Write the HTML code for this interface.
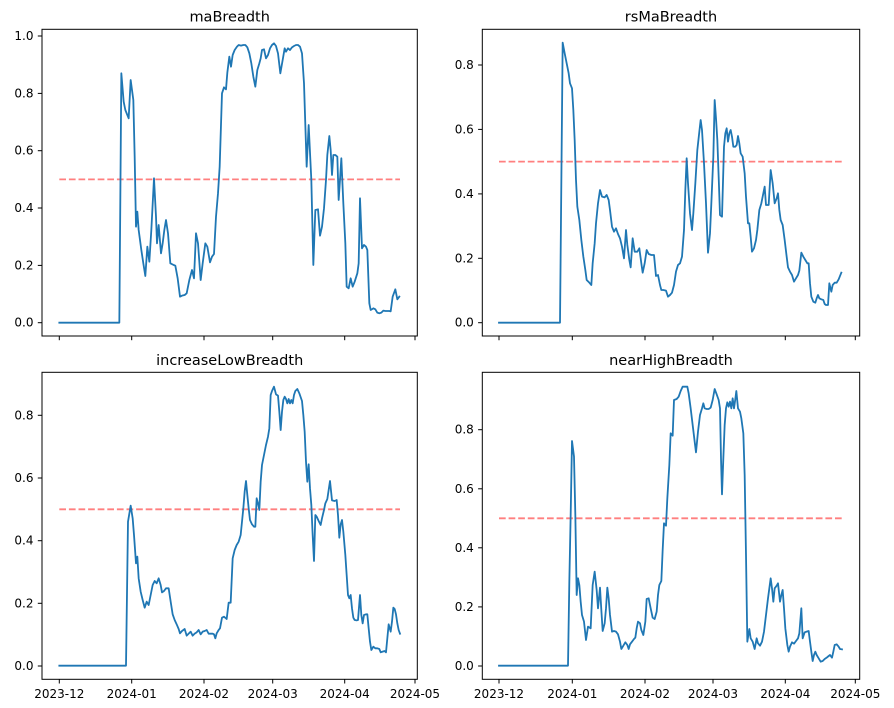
<!DOCTYPE html>
<html>
<head>
<meta charset="utf-8">
<style>
  html,body{margin:0;padding:0;background:#fff;}
  svg{display:block;}
  text{font-family:"DejaVu Sans","Liberation Sans",sans-serif;fill:#000;}
  .t{font-size:14.5px;text-anchor:middle;}
  .yl{font-size:12px;text-anchor:end;dominant-baseline:central;}
  .xl{font-size:12px;text-anchor:middle;}
  .sp{fill:none;stroke:#000;stroke-width:1;}
  .tk{stroke:#000;stroke-width:1;}
  .ref{stroke:#ff0000;stroke-opacity:0.5;stroke-width:1.8;stroke-dasharray:6.7,2.9;fill:none;}
  .ln{fill:none;stroke:#1f77b4;stroke-width:1.8;stroke-linejoin:round;stroke-linecap:square;}
</style>
</head>
<body>
<svg width="894" height="708" viewBox="0 0 894 708" xmlns="http://www.w3.org/2000/svg">
<rect width="894" height="708" fill="#fff"/>

<!-- ============ Top-left: maBreadth ============ -->
<text class="t" x="229.7" y="21.5">maBreadth</text>
<line class="ref" x1="59.3" y1="179.4" x2="400" y2="179.4"/>
<g transform="translate(112,30) scale(0.33333)">
<polyline class="ln" vector-effect="non-scaling-stroke" points="-158,878 22,878 28,130 35,215 40,240 46,255 50,265 56,150 64,210 68,380 72,590 76,545 80,600 88,660 94,700 100,738 106,650 112,695 118,600 126,445 132,560 135,640 140,585 147,670 152,640 157,600 162,570 168,610 175,700 185,705 190,707 197,745 204,800 210,797 218,795 224,790 232,750 240,720 246,745 252,610 258,640 266,750 272,700 280,640 286,650 294,697 300,680 306,672 312,560 318,490 323,410 330,190 336,172 342,178 346,128 352,80 357,110 362,75 368,60 375,50 380,45 387,47 394,45 400,45 406,52 412,70 418,100 424,140 430,170 436,120 442,100 446,85 450,60 456,58 462,85 468,75 474,55 480,45 486,40 492,48 498,70 505,130 512,90 518,55 522,65 528,55 534,60 540,52 546,48 552,45 558,45 564,50 570,70 576,160 584,410 590,285 598,450 604,705 610,540 618,538 624,617 630,590 636,535 642,450 646,375 652,318 656,360 660,435 664,375 670,375 676,380 680,510 684,450 688,385 694,520 700,640 704,770 710,775 716,745 722,770 728,755 736,730 740,700 744,505 750,655 756,645 762,650 766,660 772,820 776,840 784,835 790,838 796,848 802,850 808,848 814,842 820,843 826,843 832,843 836,844 842,800 850,778 856,808 862,800"/>
</g>
<rect class="sp" x="42" y="29.3" width="375.3" height="306.7"/>
<g class="tk">
<line x1="42" y1="322.7" x2="37.8" y2="322.7"/><line x1="42" y1="265.4" x2="37.8" y2="265.4"/><line x1="42" y1="208" x2="37.8" y2="208"/><line x1="42" y1="150.7" x2="37.8" y2="150.7"/><line x1="42" y1="93.4" x2="37.8" y2="93.4"/><line x1="42" y1="36" x2="37.8" y2="36"/>
<line x1="59.3" y1="336" x2="59.3" y2="340.2"/><line x1="131.7" y1="336" x2="131.7" y2="340.2"/><line x1="204" y1="336" x2="204" y2="340.2"/><line x1="272.7" y1="336" x2="272.7" y2="340.2"/><line x1="344.7" y1="336" x2="344.7" y2="340.2"/><line x1="415" y1="336" x2="415" y2="340.2"/>
</g>
<text class="yl" x="33.5" y="322.7">0.0</text><text class="yl" x="33.5" y="265.4">0.2</text><text class="yl" x="33.5" y="208">0.4</text><text class="yl" x="33.5" y="150.7">0.6</text><text class="yl" x="33.5" y="93.4">0.8</text><text class="yl" x="33.5" y="36">1.0</text>

<!-- ============ Top-right: rsMaBreadth ============ -->
<text class="t" x="671" y="21.5">rsMaBreadth</text>
<line class="ref" x1="499" y1="161.6" x2="842" y2="161.6"/>
<g transform="translate(556,30) scale(0.33333)">
<polyline class="ln" vector-effect="non-scaling-stroke" points="-171,878 12,878 20,38 26,70 32,100 38,130 42,160 48,175 52,240 56,330 60,450 64,530 70,570 76,630 82,680 88,720 92,750 100,758 106,765 110,700 116,640 120,580 126,520 132,480 138,500 146,502 152,495 158,510 162,540 168,590 174,605 180,595 186,612 192,625 198,650 204,685 210,600 214,645 220,690 224,712 230,625 236,665 244,665 250,655 256,700 260,728 266,700 272,660 278,672 286,675 294,675 300,738 306,735 312,765 316,780 322,780 330,782 336,800 342,795 348,788 354,765 360,725 366,705 372,700 378,680 384,600 388,480 392,385 396,460 402,550 408,600 412,550 418,460 424,360 430,305 434,270 438,300 444,400 450,520 456,668 462,610 466,520 472,380 476,210 480,265 484,330 488,440 492,555 498,560 504,350 508,310 512,295 516,335 520,310 524,300 528,320 532,350 538,350 542,345 546,318 550,340 554,370 560,380 566,430 570,500 576,580 580,580 584,620 588,665 594,655 600,630 604,600 610,540 616,520 622,490 626,470 630,525 638,525 644,420 650,460 656,520 662,505 666,490 670,540 674,570 680,585 686,630 692,680 696,712 702,725 708,735 714,755 720,745 726,735 730,722 736,668 742,680 748,690 754,700 758,700 762,760 766,800 772,815 778,818 782,805 786,795 790,805 796,808 802,810 806,822 810,825 816,825 820,760 826,785 830,765 836,758 842,758 848,748 856,728"/>
</g>
<rect class="sp" x="482.3" y="29.3" width="377.4" height="306.7"/>
<g class="tk">
<line x1="482.3" y1="322.7" x2="478.1" y2="322.7"/><line x1="482.3" y1="258.3" x2="478.1" y2="258.3"/><line x1="482.3" y1="193.9" x2="478.1" y2="193.9"/><line x1="482.3" y1="129.4" x2="478.1" y2="129.4"/><line x1="482.3" y1="65" x2="478.1" y2="65"/>
<line x1="499" y1="336" x2="499" y2="340.2"/><line x1="572.3" y1="336" x2="572.3" y2="340.2"/><line x1="645" y1="336" x2="645" y2="340.2"/><line x1="713" y1="336" x2="713" y2="340.2"/><line x1="785.3" y1="336" x2="785.3" y2="340.2"/><line x1="855.3" y1="336" x2="855.3" y2="340.2"/>
</g>
<text class="yl" x="473.8" y="322.7">0.0</text><text class="yl" x="473.8" y="258.3">0.2</text><text class="yl" x="473.8" y="193.9">0.4</text><text class="yl" x="473.8" y="129.4">0.6</text><text class="yl" x="473.8" y="65">0.8</text>

<!-- ============ Bottom-left: increaseLowBreadth ============ -->
<text class="t" x="229.7" y="365">increaseLowBreadth</text>
<line class="ref" x1="59.3" y1="509.3" x2="400" y2="509.3"/>
<g transform="translate(112,375) scale(0.33333)">
<polyline class="ln" vector-effect="non-scaling-stroke" points="-158,872 42,872 48,440 56,392 62,430 66,480 72,565 76,545 80,610 86,650 92,675 98,698 104,680 110,690 116,660 122,630 128,618 134,625 140,610 146,630 150,652 156,648 162,640 170,640 176,680 182,718 188,735 194,748 200,762 204,775 210,768 218,762 224,782 230,776 236,770 242,782 248,776 254,772 260,765 266,778 272,770 278,768 284,765 290,776 296,776 302,776 306,778 310,790 314,775 320,765 324,760 330,728 336,725 344,732 350,683 356,683 362,550 368,525 374,510 380,500 386,480 390,440 394,400 398,350 402,318 406,360 410,400 414,435 420,448 426,455 430,455 434,370 438,385 442,405 446,320 450,270 456,240 462,210 468,185 472,160 476,60 480,48 486,35 492,58 498,62 502,110 506,165 510,110 514,75 518,65 522,72 526,85 530,72 534,85 538,75 542,85 546,60 550,48 556,42 562,55 570,78 574,120 578,170 582,260 586,320 590,268 594,340 598,390 602,480 606,558 610,420 614,425 620,438 626,450 630,430 636,405 640,385 646,372 654,318 660,376 668,378 674,375 678,420 682,488 686,448 690,435 694,470 700,540 704,600 708,660 712,670 716,660 720,700 724,728 728,735 734,736 738,735 744,660 748,720 752,745 756,720 762,718 766,718 770,760 774,800 778,825 784,815 790,820 796,820 802,822 806,832 812,830 818,828 822,832 826,790 830,748 836,770 840,740 844,698 848,702 852,718 856,745 860,765 864,776"/>
</g>
<rect class="sp" x="42" y="372.3" width="375.3" height="307"/>
<g class="tk">
<line x1="42" y1="666" x2="37.8" y2="666"/><line x1="42" y1="603.3" x2="37.8" y2="603.3"/><line x1="42" y1="540.7" x2="37.8" y2="540.7"/><line x1="42" y1="478" x2="37.8" y2="478"/><line x1="42" y1="415.3" x2="37.8" y2="415.3"/>
<line x1="59.3" y1="679.3" x2="59.3" y2="683.5"/><line x1="131.7" y1="679.3" x2="131.7" y2="683.5"/><line x1="204" y1="679.3" x2="204" y2="683.5"/><line x1="272.7" y1="679.3" x2="272.7" y2="683.5"/><line x1="344.7" y1="679.3" x2="344.7" y2="683.5"/><line x1="415" y1="679.3" x2="415" y2="683.5"/>
</g>
<text class="yl" x="33.5" y="666">0.0</text><text class="yl" x="33.5" y="603.3">0.2</text><text class="yl" x="33.5" y="540.7">0.4</text><text class="yl" x="33.5" y="478">0.6</text><text class="yl" x="33.5" y="415.3">0.8</text>
<text class="xl" x="59.3" y="698">2023-12</text><text class="xl" x="131.7" y="698">2024-01</text><text class="xl" x="204" y="698">2024-02</text><text class="xl" x="272.7" y="698">2024-03</text><text class="xl" x="344.7" y="698">2024-04</text><text class="xl" x="415" y="698">2024-05</text>

<!-- ============ Bottom-right: nearHighBreadth ============ -->
<text class="t" x="671" y="365">nearHighBreadth</text>
<line class="ref" x1="499" y1="518.3" x2="842" y2="518.3"/>
<g transform="translate(556,375) scale(0.33333)">
<polyline class="ln" vector-effect="non-scaling-stroke" points="-171,872 36,872 40,620 44,420 48,198 54,245 58,420 62,660 66,610 70,630 74,680 78,720 84,740 90,795 96,755 104,760 110,630 116,590 122,645 126,700 132,638 136,705 140,768 146,745 150,700 154,638 158,670 162,720 168,770 174,768 180,770 186,778 192,800 196,822 202,812 208,802 214,810 218,822 222,808 228,800 234,792 238,788 242,760 246,740 252,745 256,765 262,780 268,740 272,672 278,670 284,700 290,728 296,732 302,710 306,660 310,630 316,618 320,525 324,445 330,452 334,370 340,270 344,175 350,182 354,75 362,72 368,65 374,48 380,35 388,35 394,35 398,55 404,100 410,150 416,200 420,232 426,170 432,120 438,100 442,85 446,100 452,102 458,102 464,98 470,75 476,42 482,58 488,75 492,100 495,250 498,358 502,250 506,150 510,100 514,82 518,95 522,80 526,100 530,70 534,100 538,72 541,48 546,100 552,110 556,130 562,175 566,300 570,540 574,800 580,762 584,790 590,800 596,822 602,790 606,805 612,812 618,800 624,770 630,720 636,670 644,610 648,640 652,680 656,640 662,632 666,625 672,680 676,660 680,645 684,700 688,760 694,810 698,830 702,815 708,802 714,806 720,798 726,790 730,775 736,700 740,790 746,772 752,770 758,768 762,800 766,830 770,858 774,840 778,830 782,840 788,850 794,860 800,858 806,852 812,848 818,843 822,840 828,848 832,830 836,810 842,808 848,815 852,822 858,823"/>
</g>
<rect class="sp" x="482.3" y="372.3" width="377.4" height="307"/>
<g class="tk">
<line x1="482.3" y1="666" x2="478.1" y2="666"/><line x1="482.3" y1="606.9" x2="478.1" y2="606.9"/><line x1="482.3" y1="547.8" x2="478.1" y2="547.8"/><line x1="482.3" y1="488.8" x2="478.1" y2="488.8"/><line x1="482.3" y1="429.7" x2="478.1" y2="429.7"/>
<line x1="499" y1="679.3" x2="499" y2="683.5"/><line x1="572.3" y1="679.3" x2="572.3" y2="683.5"/><line x1="645" y1="679.3" x2="645" y2="683.5"/><line x1="713" y1="679.3" x2="713" y2="683.5"/><line x1="785.3" y1="679.3" x2="785.3" y2="683.5"/><line x1="855.3" y1="679.3" x2="855.3" y2="683.5"/>
</g>
<text class="yl" x="473.8" y="666">0.0</text><text class="yl" x="473.8" y="606.9">0.2</text><text class="yl" x="473.8" y="547.8">0.4</text><text class="yl" x="473.8" y="488.8">0.6</text><text class="yl" x="473.8" y="429.7">0.8</text>
<text class="xl" x="499" y="698">2023-12</text><text class="xl" x="572.3" y="698">2024-01</text><text class="xl" x="645" y="698">2024-02</text><text class="xl" x="713" y="698">2024-03</text><text class="xl" x="785.3" y="698">2024-04</text><text class="xl" x="855.3" y="698">2024-05</text>
</svg>
</body>
</html>
